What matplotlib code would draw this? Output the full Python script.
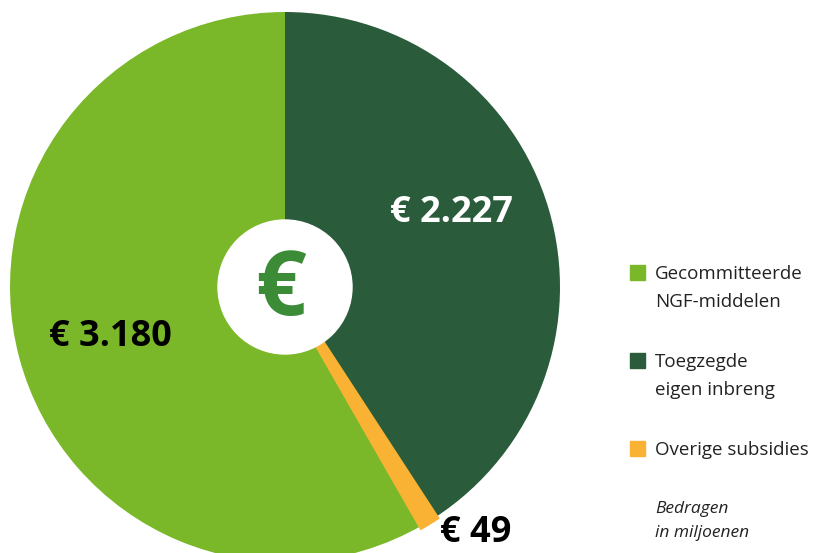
import matplotlib.pyplot as plt
from matplotlib.patches import Circle, Rectangle

# data (in miljoenen euro)
labels = ["Toegzegde\neigen inbreng", "Overige subsidies", "Gecommitteerde\nNGF-middelen"]
values = [2227, 49, 3180]
colors = ["#2A5C3B", "#F9B234", "#7AB829"]

plt.rcParams['font.family'] = ['Open Sans', 'DejaVu Sans']

W, H = 818, 553
fig = plt.figure(figsize=(W / 100, H / 100), dpi=100)
ax = fig.add_axes([0, 0, 1, 1])

cx, cy, r = 285, H - 287, 275
wedges, _ = ax.pie(values, colors=colors, startangle=90, counterclock=False,
                   center=(cx, cy), radius=r,
                   wedgeprops=dict(linewidth=0))
# the small slice is drawn a bit wider in the original
wedges[1].set_edgecolor(colors[1])
wedges[1].set_linewidth(5)
wedges[1].set_zorder(3)

ax.add_patch(Circle((cx, cy), 67, color="white", zorder=5))
ax.text(cx - 4, cy - 5, "€", color="#3C8C37", fontsize=64, fontweight="bold",
        ha="center", va="center", zorder=6)

def fmt(v):
    return "€ " + f"{v:,}".replace(",", ".")

ax.text(451, H - 213, fmt(values[0]), color="white", fontsize=26, fontweight="bold",
        ha="center", va="center", zorder=6)
ax.text(110, H - 337, fmt(values[2]), color="black", fontsize=26, fontweight="bold",
        ha="center", va="center", zorder=6)
ax.text(476, H - 533, fmt(values[1]), color="black", fontsize=26, fontweight="bold",
        ha="center", va="center", zorder=6)

# legend
leg_order = [2, 0, 1]
leg_top = [266, 354, 442]
for i, y in zip(leg_order, leg_top):
    ax.add_patch(Rectangle((630, H - y - 14), 15, 15, color=colors[i], zorder=6))
    ax.text(655, H - y + 1, labels[i], fontsize=13.5, color="#222222",
            ha="left", va="top", linespacing=1.68, zorder=6)

ax.text(655, H - 501, "Bedragen\nin miljoenen", fontsize=12.5, style="italic",
        color="#222222", ha="left", va="top", linespacing=1.7)

ax.set_xlim(0, W)
ax.set_ylim(0, H)
ax.set_aspect("equal")
ax.axis("off")

fig.savefig("out.png", dpi=100)
